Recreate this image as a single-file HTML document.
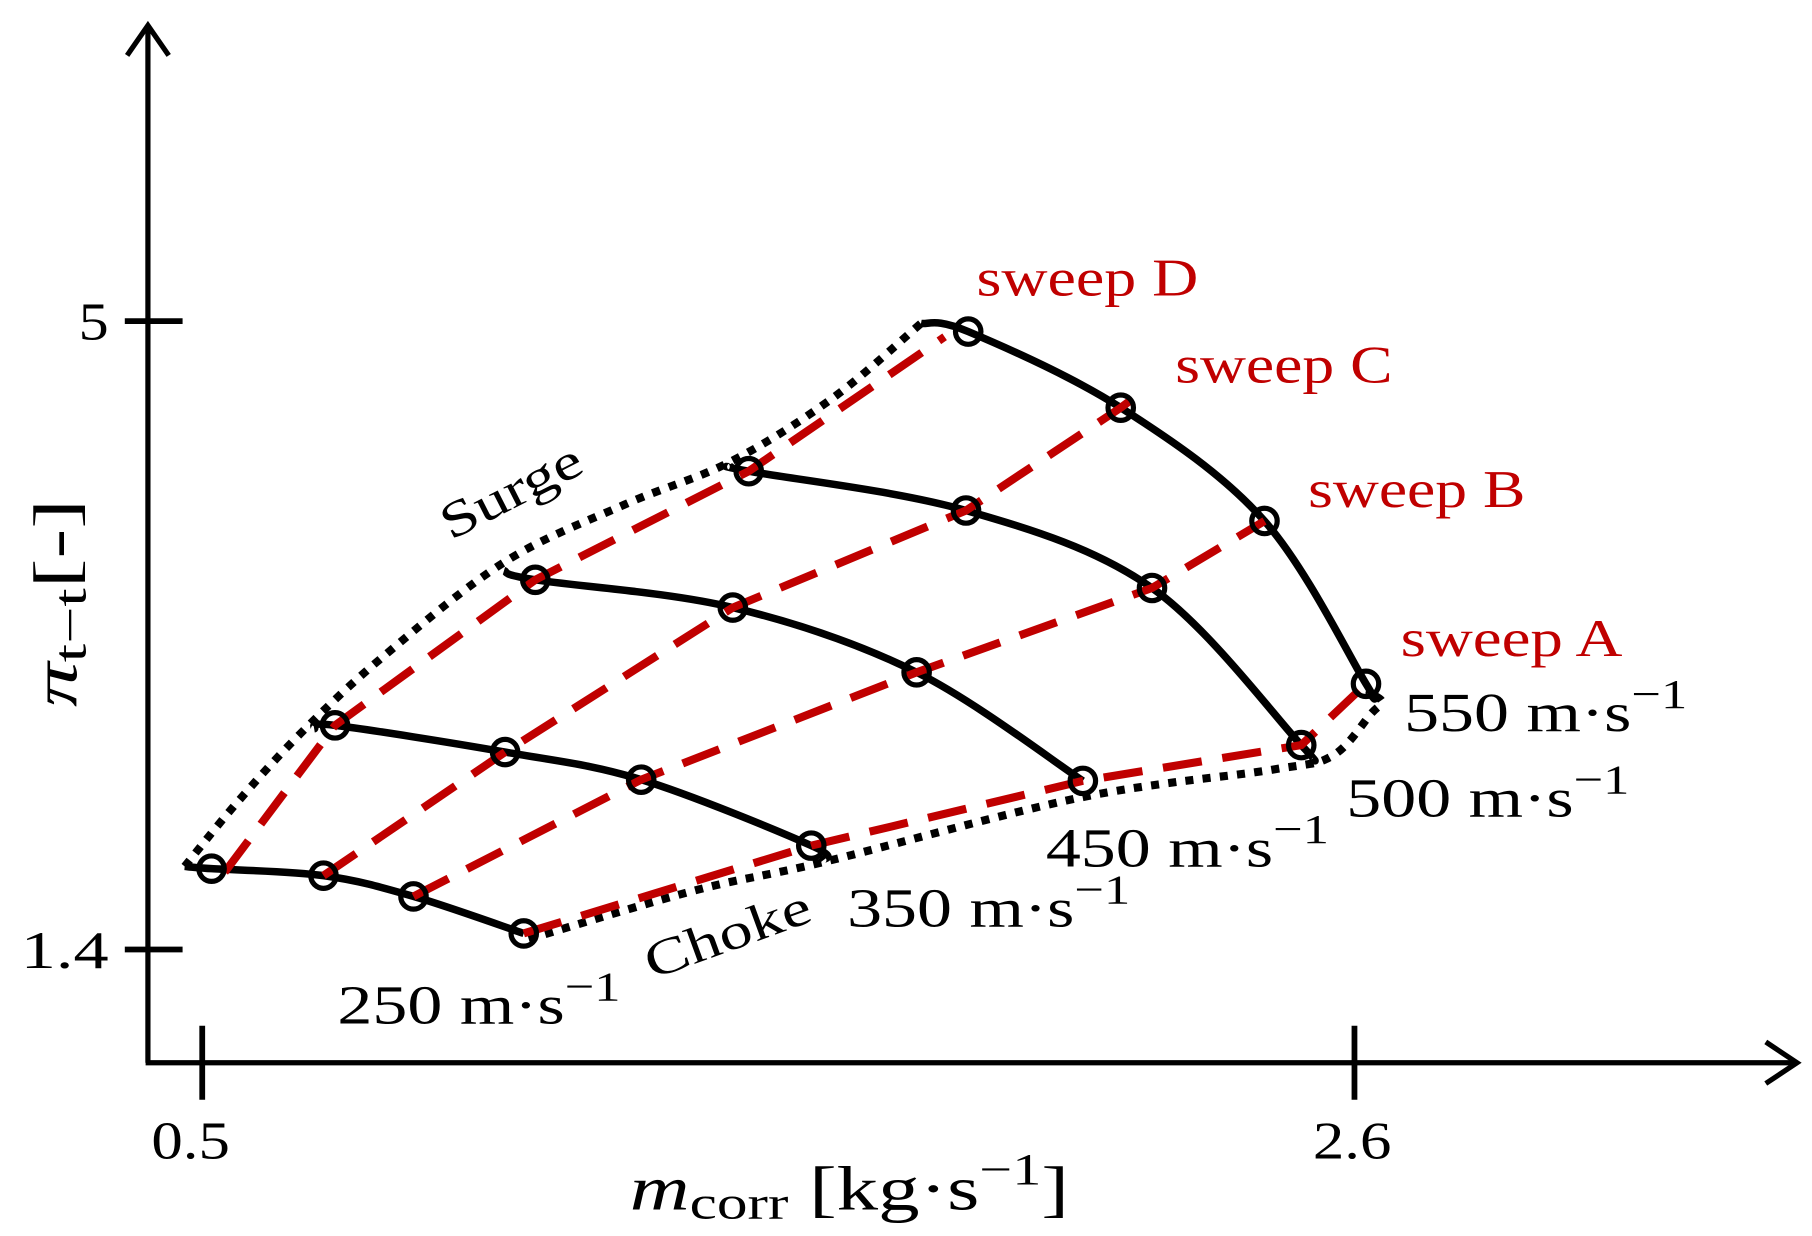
<!DOCTYPE html>
<html><head><meta charset="utf-8"><style>
html,body{margin:0;padding:0;background:#fff;}
svg{display:block;}
text{font-family:"Liberation Serif",serif;}
</style></head><body>
<svg id="chart" width="1812" height="1236" viewBox="0 0 1568 1070" preserveAspectRatio="none" xmlns="http://www.w3.org/2000/svg">
<g id="axes" stroke="#000" stroke-width="4.5" fill="none">
  <line x1="128" y1="920" x2="128" y2="22"/>
  <polyline points="110,48 128,22 146,48"/>
  <line x1="126" y1="920" x2="1555" y2="920"/>
  <polyline points="1528,902 1555,920 1528,938"/>
</g>
<g id="ticks"></g>
<g id="marks"></g>
<g id="labels">
  <text x="845" y="256" font-size="46" fill="#c00000" textLength="192" lengthAdjust="spacingAndGlyphs">sweep D</text>
  <text x="1017" y="331" font-size="46" fill="#c00000" textLength="188" lengthAdjust="spacingAndGlyphs">sweep C</text>
  <text x="1132" y="439" font-size="46" fill="#c00000" textLength="188" lengthAdjust="spacingAndGlyphs">sweep B</text>
  <text x="1212" y="568" font-size="46" fill="#c00000" textLength="192" lengthAdjust="spacingAndGlyphs">sweep A</text>
  <text x="1215" y="633" font-size="48" textLength="245" lengthAdjust="spacingAndGlyphs">550 m·s<tspan dy="-20" font-size="36">−1</tspan></text>
  <text x="1165" y="707" font-size="48" textLength="245" lengthAdjust="spacingAndGlyphs">500 m·s<tspan dy="-20" font-size="36">−1</tspan></text>
  <text x="905" y="750" font-size="48" textLength="245" lengthAdjust="spacingAndGlyphs">450 m·s<tspan dy="-20" font-size="36">−1</tspan></text>
  <text x="733" y="802" font-size="48" textLength="245" lengthAdjust="spacingAndGlyphs">350 m·s<tspan dy="-20" font-size="36">−1</tspan></text>
  <text x="292" y="886" font-size="48" textLength="245" lengthAdjust="spacingAndGlyphs">250 m·s<tspan dy="-20" font-size="36">−1</tspan></text>
  <text x="0" y="0" font-size="44" transform="translate(390,468) rotate(-27)" textLength="132" lengthAdjust="spacingAndGlyphs">Surge</text>
  <text x="0" y="0" font-size="44" transform="translate(564,848) rotate(-20)" textLength="150" lengthAdjust="spacingAndGlyphs">Choke</text>
  <text x="545" y="1047" font-size="54" textLength="380" lengthAdjust="spacingAndGlyphs"><tspan font-style="italic">m</tspan><tspan font-size="40" dy="8">corr</tspan><tspan dy="-8"> [kg·s</tspan><tspan dy="-22" font-size="38">−1</tspan><tspan dy="22">]</tspan></text>
  <text x="0" y="0" font-size="54" transform="translate(66,612) rotate(-90)" textLength="180" lengthAdjust="spacingAndGlyphs"><tspan font-style="italic">π</tspan><tspan font-size="40" dy="8">t−t</tspan><tspan dy="-8">[-]</tspan></text>
</g>
</svg>
<script>
const xTicks=[0.5,2.6];
const xTickLabels=["0.5","2.6"];
const yTicks=[5,1.4];
const yTickLabels=["5","1.4"];
const speedNames=["250","350","450","500","550"];
const speedX=[[0.468,0.517,0.721,0.885,1.086],[0.704,0.742,1.052,1.300,1.610,1.631],[1.050,1.107,1.467,1.802,2.105],[1.463,1.496,1.892,2.231,2.503,2.518],[1.810,1.896,2.174,2.436,2.621,2.627]];
const speedY=[[1.876,1.863,1.823,1.704,1.492],[2.664,2.684,2.531,2.373,1.995,1.909],[3.571,3.518,3.359,2.988,2.366],[4.166,4.140,3.915,3.471,2.571,2.505],[4.987,4.940,4.504,3.855,2.922,2.869]];
const pointX=[[0.517,0.721,0.885,1.086],[0.742,1.052,1.300,1.610],[1.107,1.467,1.802,2.105],[1.496,1.892,2.231,2.503],[1.896,2.174,2.436,2.621]];
const pointY=[[1.863,1.823,1.704,1.492],[2.684,2.531,2.373,1.995],[3.518,3.359,2.988,2.366],[4.140,3.915,3.471,2.571],[4.940,4.504,3.855,2.922]];
const sweepNames=["A","B","C","D"];
const sweepX=[[1.086,1.610,2.105,2.503,2.621],[0.885,1.300,1.802,2.231,2.436],[0.721,1.052,1.467,1.892,2.174,2.222],[0.541,0.742,1.107,1.496,1.853]];
const sweepY=[[1.492,1.995,2.366,2.571,2.922],[1.704,2.373,2.988,3.471,3.855],[1.823,2.531,3.359,3.915,4.504,4.616],[1.843,2.684,3.518,4.140,4.910]];
const surgeX=[0.468,0.563,0.679,0.826,1.050,1.269,1.463,1.648,1.810];
const surgeY=[1.876,2.240,2.637,3.068,3.618,3.948,4.195,4.557,4.987];
const chokeX=[1.095,1.40,1.631,2.10,2.450,2.560,2.630,2.650,2.627];
const chokeY=[1.46,1.74,1.90,2.27,2.43,2.51,2.75,2.82,2.869];

const NS="http://www.w3.org/2000/svg";
const xs=v=>175+(v-0.5)*474.8;
const ys=v=>278+(5-v)*151.1;
function mk(tag,attrs,parent){const e=document.createElementNS(NS,tag);for(const k in attrs)e.setAttribute(k,attrs[k]);parent.appendChild(e);return e;}
function smooth(X,Y){const p=X.map((x,i)=>[xs(x),ys(Y[i])]);let d="M"+p[0][0]+","+p[0][1];
 for(let i=0;i<p.length-1;i++){const p0=p[i-1]||p[i],p1=p[i],p2=p[i+1],p3=p[i+2]||p2;
 const c1=[p1[0]+(p2[0]-p0[0])/6,p1[1]+(p2[1]-p0[1])/6],c2=[p2[0]-(p3[0]-p1[0])/6,p2[1]-(p3[1]-p1[1])/6];
 d+=" C"+c1+" "+c2+" "+p2;}return d;}
const ticks=document.getElementById('ticks'),marks=document.getElementById('marks');
xTicks.forEach((t,i)=>{
 const l=mk('line',{x1:xs(t),x2:xs(t),y1:888,y2:952,stroke:'#000','stroke-width':5},ticks);
 
 
 const tx=mk('text',{x:xs(t)-(i===0?10:2),y:1003,'font-size':46,'text-anchor':'middle',textLength:68,lengthAdjust:'spacingAndGlyphs'},ticks);tx.textContent=xTickLabels[i];
 
 
});
yTicks.forEach((t,i)=>{
 const l=mk('line',{x1:108,x2:158,y1:ys(t),y2:ys(t),stroke:'#000','stroke-width':5},ticks);
 
 
 const w=yTickLabels[i].length>1?76:26;
 const tx=mk('text',{x:94,y:ys(t)+16,'font-size':46,'text-anchor':'end',textLength:w,lengthAdjust:'spacingAndGlyphs'},ticks);tx.textContent=yTickLabels[i];
 
 
});
const su=mk('path',{d:smooth(surgeX,surgeY),fill:'none',stroke:'#000','stroke-width':7,'stroke-dasharray':'7 8'},marks);


const ch=mk('path',{d:smooth(chokeX,chokeY),fill:'none',stroke:'#000','stroke-width':7,'stroke-dasharray':'7 8'},marks);


speedNames.forEach((n,i)=>{
 const p=mk('path',{d:smooth(speedX[i],speedY[i]),fill:'none',stroke:'#000','stroke-width':6.5},marks);
 
 
});
sweepNames.forEach((n,i)=>{
 const pts=sweepX[i].map((x,j)=>xs(x)+","+ys(sweepY[i][j])).join(" ");
 const p=mk('polyline',{points:pts,fill:'none',stroke:'#c00000','stroke-width':7,'stroke-dasharray':'34 18'},marks);
 
 
});
speedNames.forEach((n,i)=>{
 pointX[i].forEach((x,j)=>{
  const c=mk('circle',{cx:xs(x),cy:ys(pointY[i][j]),r:11,fill:'none',stroke:'#000','stroke-width':4.5},marks);
  
  
 });
});
</script>
</body></html>
